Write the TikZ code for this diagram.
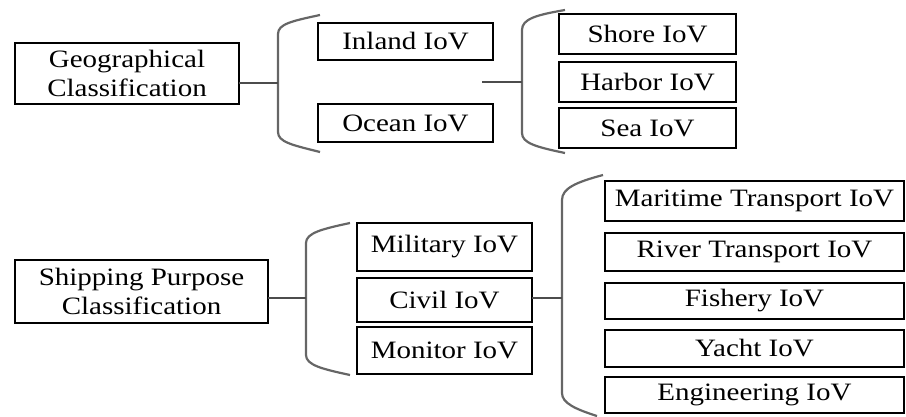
\documentclass[tikz,border=0pt]{standalone}
\usepackage{fontspec}
\setmainfont{Liberation Serif}[FakeStretch=1.16]
\begin{document}
\begin{tikzpicture}[x=1pt,y=-1pt,
  box/.style={draw=black,line width=2.6pt,inner sep=0pt,outer sep=0pt,align=center,
    font=\fontsize{25}{29}\selectfont},
  brk/.style={draw=black!60,line width=2.2pt},
  conn/.style={draw=black!70,line width=2.2pt}]
\useasboundingbox (0,0) rectangle (906,417);
% top group
\node[box,minimum width=224pt,minimum height=61pt] (geo) at (127,73.5) {Geographical\\Classification};
\node[box,minimum width=175pt,minimum height=37pt] (inland) at (405.5,41.5) {Inland IoV};
\node[box,minimum width=175pt,minimum height=38pt] (ocean) at (405.5,123) {Ocean IoV};
\node[box,minimum width=177pt,minimum height=40pt] (shore) at (647.5,34) {Shore IoV};
\node[box,minimum width=177pt,minimum height=40pt] (harbor) at (647.5,82) {Harbor IoV};
\node[box,minimum width=177pt,minimum height=40pt] (sea) at (647.5,128) {Sea IoV};
\coordinate (b1) at (278,83);
\coordinate (m1) at (482,82);
\coordinate (b2) at (522,82);
\draw[brk] (320,15) .. controls (292,21) and (278,24) .. (278,34) -- (278,132) .. controls (278,142) and (292,145) .. (320,152);
\draw[brk] (565,10) .. controls (536,15) and (522,19) .. (522,30) -- (522,133) .. controls (522,143) and (536,147) .. (565,153);
\draw[conn] (b1 -| geo.east) -- (b1);
\draw[conn] (m1) -- (b2);
% bottom group
\node[box,minimum width=253pt,minimum height=63pt] (ship) at (141.5,291.5) {Shipping Purpose\\Classification};
\node[box,minimum width=175pt,minimum height=48pt] (military) at (444.5,247) {Military IoV};
\node[box,minimum width=175pt,minimum height=44pt] (civil) at (444.5,300) {Civil IoV};
\node[box,minimum width=175pt,minimum height=47pt] (monitor) at (444.5,350.5) {Monitor IoV};
\node[box,minimum width=299pt,minimum height=40pt] (maritime) at (754.5,201) {Maritime Transport IoV};
\node[box,minimum width=299pt,minimum height=38pt] (river) at (754.5,252) {River Transport IoV};
\node[box,minimum width=299pt,minimum height=36pt] (fishery) at (754.5,301) {Fishery IoV};
\node[box,minimum width=299pt,minimum height=37pt] (yacht) at (754.5,348.5) {Yacht IoV};
\node[box,minimum width=299pt,minimum height=36pt] (eng) at (754.5,395) {Engineering IoV};
\coordinate (b3) at (306,298);
\coordinate (b4) at (562,298);
\draw[brk] (350,223) .. controls (322,229) and (306,233) .. (306,243) -- (306,355) .. controls (306,365) and (322,369) .. (350,375);
\draw[brk] (603,175) .. controls (577,182) and (562,188) .. (562,200) -- (562,393) .. controls (562,403) and (575,409) .. (597,416);
\draw[conn] (b3 -| ship.east) -- (b3);
\draw[conn] (b4 -| civil.east) -- (b4);
\end{tikzpicture}
\end{document}
